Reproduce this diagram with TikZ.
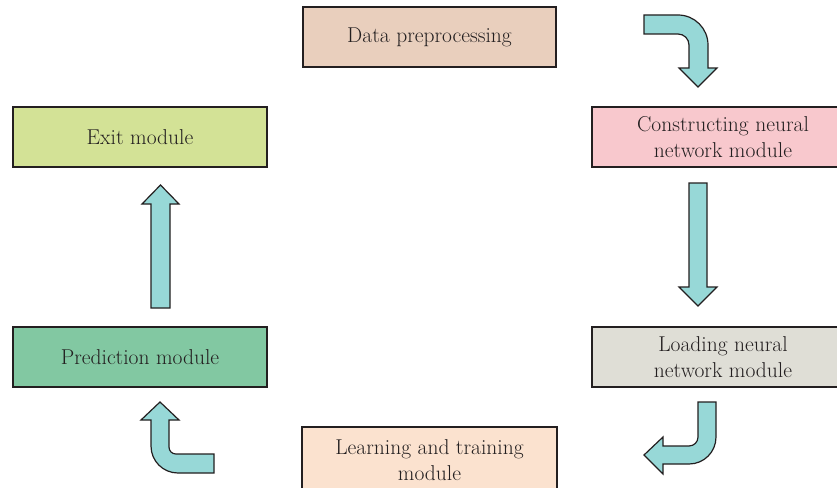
\documentclass[tikz,border=0pt]{standalone}
\usepackage{fontspec}
\setmainfont{Latin Modern Roman}
\definecolor{ink}{HTML}{231F20}
\definecolor{cdata}{HTML}{E9CFBD}
\definecolor{cexit}{HTML}{D3E296}
\definecolor{ccons}{HTML}{F8C8CD}
\definecolor{cpred}{HTML}{82C8A2}
\definecolor{cload}{HTML}{DFDED6}
\definecolor{clearn}{HTML}{FBE2CF}
\definecolor{carrow}{HTML}{97D8D7}
\tikzset{
  modbox/.style={draw=ink, line width=1.6pt, minimum height=60pt, inner sep=0pt,
    align=center, text=ink, font=\fontsize{21.5}{26}\selectfont},
  blockarrow/.style={draw=ink, fill=carrow, line width=1.2pt, line join=miter}
}
\begin{document}
\begin{tikzpicture}[x=1pt,y=-1pt]
\useasboundingbox (0,0) rectangle (837,487);
\clip (0,0) rectangle (837,487);
\fill[white] (0,0) rectangle (837,487);
% boxes
\node[modbox, fill=cdata, minimum width=253pt] (data) at (429.5,37) {Data preprocessing};
\node[modbox, fill=cexit, minimum width=254pt] (exit) at (140,137) {Exit module};
\node[modbox, fill=ccons, minimum width=262pt] (cons) at (723,137) {Constructing neural\\network module};
\node[modbox, fill=cpred, minimum width=254pt] (pred) at (140,357) {Prediction module};
\node[modbox, fill=cload, minimum width=262pt] (load) at (723,357) {Loading neural\\network module};
\node[modbox, fill=clearn, minimum width=255pt, minimum height=66pt] (learn) at (429.5,460) {Learning and training\\module};
% arrow: data -> constructing
\draw[blockarrow] (644,15) -- (678,15) .. controls (694.6,15) and (708,28.4) .. (708,45)
  -- (708,68) -- (717,68) -- (698,87) -- (679,68) -- (689,68) -- (689,45)
  .. controls (689,38.9) and (684.1,34) .. (678,34) -- (644,34) -- cycle;
% arrow: constructing -> loading
\draw[blockarrow] (689,183) -- (707,183) -- (707,287) -- (717,287) -- (698,306)
  -- (679,287) -- (689,287) -- cycle;
% arrow: loading -> learning
\draw[blockarrow] (698,402) -- (716,402) -- (716,437) .. controls (716,452) and (704,464) .. (689,464)
  -- (663,464) -- (663,474) -- (644,455) -- (663,437) -- (663,446) -- (689,446)
  .. controls (694,446) and (698,442) .. (698,437) -- cycle;
% arrow: learning -> prediction
\draw[blockarrow] (214,454) -- (214,473) -- (178,473) .. controls (163,473) and (151,461) .. (151,446)
  -- (151,420) -- (141,420) -- (160,402) -- (179,420) -- (169,420) -- (169,447)
  .. controls (169,451) and (172,454) .. (176,454) -- cycle;
% arrow: prediction -> exit
\draw[blockarrow] (151,308) -- (151,204) -- (142,204) -- (160.5,185) -- (179,204)
  -- (170,204) -- (170,308) -- cycle;
\end{tikzpicture}
\end{document}
